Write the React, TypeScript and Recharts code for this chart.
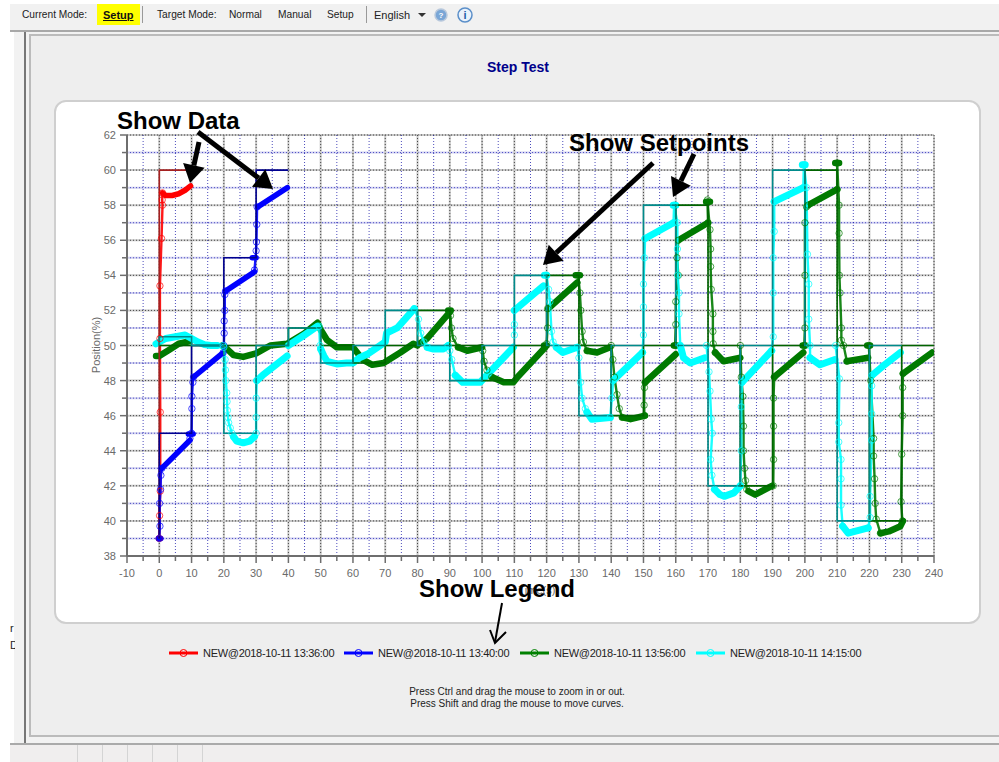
import React from 'react';
import { LineChart, Line, XAxis, YAxis, CartesianGrid, Legend } from 'recharts';

type Pair = [number, number | null];

const xTicks = [-10,-5,0,5,10,15,20,25,30,35,40,45,50,55,60,65,70,75,80,85,90,95,100,105,110,115,120,125,130,135,140,145,150,155,160,165,170,175,180,185,190,195,200,205,210,215,220,225,230,235,240];
const yTicks = [38,39,40,41,42,43,44,45,46,47,48,49,50,51,52,53,54,55,56,57,58,59,60,61,62];
const xMajor = xTicks.filter((v) => v % 10 === 0);
const xMinor = xTicks.filter((v) => v % 10 !== 0);
const yMajor = yTicks.filter((v) => v % 2 === 0);
const yMinor = yTicks.filter((v) => v % 2 !== 0);

const legendNames = ['NEW@2018-10-11 13:36:00', 'NEW@2018-10-11 13:40:00', 'NEW@2018-10-11 13:56:00', 'NEW@2018-10-11 14:15:00'];
const legendColors = ['#ff0000', '#0000ff', '#008000', '#00ffff'];
const legendLeft = [169, 344, 520, 696];

// Setpoints
const redSet: Pair[] = [[0,39],[0,60],[10,60]];
const blueSet: Pair[] = [[0,39],[0,45],[10,45],[10,50],[20,50],[20,55],[30,55],[30,60],[40,60]];
const greenSet: Pair[] = [[0,50],[40,50],[40,51],[50,51],[50,50],[60,50],[60,49],[70,49],[70,50],[80,50],[80,52],[90,52],[90,50],[100,50],[100,48],[110,48],[110,50],[120,50],[120,54],[130,54],[130,50],[140,50],[140,46],[150,46],[150,50],[160,50],[160,58],[170,58],[170,50],[180,50],[180,42],[190,42],[190,50],[200,50],[200,60],[210,60],[210,50],[220,50],[220,40],[230,40],[230,50],[240,50]];
const cyanSet: Pair[] = [[0,50],[0,50.5],[10,50.5],[10,50],[20,50],[20,45],[30,45],[30,50],[40,50],[40,51],[50,51],[50,49],[60,49],[60,50],[70,50],[70,52],[80,52],[80,50],[90,50],[90,48],[100,48],[100,50],[110,50],[110,54],[120,54],[120,50],[130,50],[130,46],[140,46],[140,50],[150,50],[150,58],[160,58],[160,50],[170,50],[170,42],[180,42],[180,50],[190,50],[190,60],[200,60],[200,50],[210,50],[210,40],[220,40],[220,50],[230,50]];

// Sparse samples through the transitions (thin line with hollow circles); null ends a transition
const redTrace: Pair[] = [[0,39],[0.1,40.3],[0.3,41.7],[0.3,46.2],[0.2,50.4],[0.2,53.4],[0.7,56.1],[1,58],[0.9,58.3],[1,58.7]];
const blueTrace: Pair[] = [[0,39],[0.2,39.7],[0.1,41],[0.4,41.8],[0.5,42.6],[0.8,43],[0.8,null],[9.5,44.7],[10,45],[10.1,46.4],[10.1,47.1],[10.4,47.9],[10.6,48.2],[10.6,null],[19.8,49.6],[20,50],[20.1,50.7],[20.1,51.4],[20.3,52],[20.3,52.9],[20.5,53.1],[20.5,null],[29.5,54.3],[30,55.4],[30.1,55.9],[30.2,56.9],[30.3,57.9]];
const greenTrace: Pair[] = [[90.2,51.7],[90.5,51],[91,50.4],[92.6,49.9],[92.6,null],[100.2,49.7],[100.6,49.1],[101.5,48.6],[103,48.2],[103,null],[120,50.1],[120.3,51],[120.3,52.1],[120.3,null],[129.8,54],[130.3,53],[130.6,52],[131,50.8],[131.4,50.2],[132.5,49.7],[132.5,null],[140,50],[140.5,49.2],[141,48.2],[141.8,47.2],[142.5,46.4],[143.4,45.9],[143.4,null],[150.3,46],[150.2,46.6],[150.3,47.6],[150.5,47.9],[150.5,null],[159.8,50],[160,51.2],[160,52.5],[160.8,54],[160.4,55],[160.8,56],[160.8,null],[170,57],[169.8,58.3],[170.6,56.6],[170.8,55.5],[170.8,54.5],[171,53.2],[171.5,51.8],[171.5,50.8],[171.6,50.1],[172.2,49.6],[172.2,null],[180,50],[180.3,48.2],[180.8,47.1],[181,45.4],[181,44],[181.3,43],[181.6,42.3],[182,41.8],[182,null],[190.2,42],[190.3,43.5],[190.3,45.4],[190.3,47],[190.5,48.2],[190.5,null],[199.8,50],[200,51],[200,54],[200,57],[200.5,57.9],[201,58],[201,null],[210,58.9],[210,60.4],[210.6,58],[210.6,56.4],[210.7,54],[210.9,53],[211.3,51],[211.3,50.3],[212,50],[213,49.1],[213,null],[219.8,50],[220.4,48],[221.3,44.7],[221.3,43.7],[221.6,42.4],[221.8,41],[222.1,40.1],[223.4,39.3],[223.4,null],[230.2,40],[229.8,41.1],[230,43.8],[230.3,46],[230.3,47.6],[230.4,48.4]];
const cyanTrace: Pair[] = [[19.8,50],[20,49.9],[20.4,49.2],[20.5,48.6],[20.6,48],[20.9,47.3],[21,46.8],[21.1,46.3],[21.3,45.9],[21.5,45.6],[22,45.3],[22.5,45],[23,44.8],[23,null],[30,45],[30,45.9],[30,47],[30.2,48],[30.2,null],[49.5,51.1],[49.8,50],[50,49.8],[50,null],[79,52.1],[80.3,51.5],[81,50.7],[82,50.2],[83,49.9],[83,null],[89.5,50],[90,49.7],[90.6,49.2],[91.7,48.3],[91.7,null],[110,50.6],[110,51.2],[110,52],[110,null],[120,54],[120.6,53.2],[121,52.5],[121.5,50.8],[122,50.2],[123,49.9],[123,null],[129.5,49.9],[130,49.3],[130.5,47.9],[131,47],[132,46.4],[132.5,46.2],[132.5,null],[139.7,45.9],[140.2,47],[140.6,48],[140.6,null],[149.7,49.6],[150,50.6],[150,52.2],[150,53.5],[150.3,55],[150.5,56.1],[150.5,null],[159.3,57],[159.5,58],[160.5,57],[160.5,55.5],[160.6,54],[161,53],[161,51.8],[161.4,50],[161.4,null],[169.5,50],[170.3,48.5],[170.6,47.4],[171,45.8],[171.3,45],[170.8,43.5],[171.2,42.6],[172,41.8],[172,null],[180,42],[180.3,44],[180.3,46.5],[180.5,47.9],[180.5,null],[189.7,49.7],[190.2,50.5],[190.2,53],[190.2,55],[190.5,56.5],[190.5,58.2],[190.5,null],[199.5,59],[199.7,60.3],[200.5,59],[200.8,55.2],[201.2,53.5],[201.2,51.5],[201.6,50],[201.6,49.3],[201.6,null],[209.5,50],[210.7,48.1],[210.5,45.6],[210.5,44.5],[211.2,43.5],[211.2,42.4],[211.2,40.9],[211.7,39.7],[211.7,null],[219.6,39.6],[220.2,40.2],[220.2,41.4],[220.7,44.6],[220.7,46.1],[220.7,47.7],[220.8,48.3]];

// Settled stretches, where the samples are so close that they merge into a thick line
const redRuns: Pair[] = [[1,58.7],[2,58.55],[4,58.55],[6,58.65],[8,58.85],[9.7,59.1]];
const blueRuns: Pair[] = [[-0.3,39],[0.5,39],[0.5,null],[0.8,43],[9.5,44.6],[9.5,null],[9,44.95],[10.5,44.95],[10.5,null],[10.6,48.2],[19.8,49.6],[19.8,null],[20.5,53.1],[29.5,54.2],[29.5,null],[28.8,55],[30,55],[30,null],[30.5,57.9],[39.7,59]];
const greenRuns: Pair[] = [[-1,49.4],[0,49.4],[3,49.75],[6,50.1],[9.6,50.25],[9.6,null],[19.5,50],[21,49.8],[23,49.45],[26,49.35],[30,49.55],[34.4,50],[39.6,50.1],[45,50.7],[49,51.3],[50,50.9],[52,50.3],[55,49.9],[60,49.9],[63,49.2],[66,48.9],[69.5,49],[74.7,49.6],[78.7,50.1],[80,50],[80,null],[80.6,50.1],[83,50.4],[90,51.9],[90,null],[89.5,52],[90.3,52],[90.3,null],[92.6,49.9],[95.4,49.7],[100,49.9],[100,null],[103,48.2],[106.7,47.9],[109.7,47.9],[111,48.2],[119.6,49.9],[119.6,null],[119.2,50],[120,50],[120,null],[120.5,52.1],[129.5,53.6],[129.5,null],[129,54],[130.3,54],[130.3,null],[132.5,49.7],[135.6,49.6],[139.7,49.9],[139.7,null],[143.4,45.9],[146,45.8],[150.5,46],[150.5,null],[150.5,47.9],[160,49.5],[160,null],[159.4,50],[160.3,50],[160.3,null],[160.8,56],[170,57],[170,null],[169.4,58.2],[170.6,58.2],[170.6,null],[172.2,49.6],[174.8,49.1],[180,49.3],[180,null],[182.5,41.7],[184.6,41.5],[189.8,42],[189.8,null],[190.5,48.2],[199.5,49.6],[199.5,null],[199.3,50],[200.2,50],[200.2,null],[201,58],[210,58.9],[210,null],[209.4,60.4],[210.6,60.4],[210.6,null],[213,49.1],[219.6,49.3],[219.6,null],[219.3,50],[220.2,50],[220.2,null],[223.4,39.3],[226,39.4],[229.6,39.7],[230.4,40],[230.4,null],[230.4,48.4],[239.4,49.6]];
const cyanRuns: Pair[] = [[-1,50.1],[0,50.2],[2,50.4],[5,50.5],[8,50.6],[10,50.4],[12,50.2],[14,50.05],[16,50],[18,50],[18,null],[23,44.8],[24,44.55],[26,44.45],[28,44.55],[29.5,44.8],[29.5,null],[30.2,48],[32,48.3],[39.6,49.4],[39.6,null],[40,50],[45,50.6],[49,51.1],[49,null],[50,49.8],[51,49.4],[52,49.1],[55,48.95],[58,49],[60,49],[62,49.3],[64.4,49.5],[70,50.2],[70.4,50.7],[73.7,51],[79,52.1],[79,null],[83,49.9],[85,49.8],[88,49.8],[89.5,50],[89.5,null],[91.7,48.3],[94,47.9],[99.4,47.9],[100.4,48.1],[109.7,49.9],[109.7,null],[110,52],[119,53.4],[119,null],[119.3,54],[120,54],[120,null],[123,49.9],[125,49.6],[129.5,49.9],[129.5,null],[132.5,46.2],[134,45.8],[139.7,45.9],[139.7,null],[140.6,48],[149.7,49.6],[149.7,null],[150.5,56.1],[159.3,57],[159.3,null],[159.2,58],[160,58],[160,null],[161.4,50],[162.4,49.3],[164.5,49],[169,49.3],[169,null],[172,41.8],[173.7,41.5],[175,41.4],[178,41.6],[180,42],[180,null],[180.5,47.9],[189.7,49.7],[189.7,null],[190.5,58.2],[199.5,59],[199.5,null],[199.2,60.3],[200.1,60.3],[200.1,null],[201.6,49.3],[204.7,48.9],[209.3,49.2],[209.3,null],[211.7,39.7],[213.4,39.3],[219.6,39.6],[219.6,null],[220.8,48.3],[224,48.8],[229.6,49.6]];

const rows = (pairs: Pair[]) => pairs.map(([x, y]) => ({ x, y }));

const axisGrey = '#6e6e6e';
const labelGrey = '#6a6a6a';
const uiFont = '"Liberation Sans", Arial, sans-serif';

const XTick = (p: any) => {
  const major = p.payload.value % 10 === 0;
  return (
    <g>
      <line x1={p.x} x2={p.x} y1={556} y2={major ? 563 : 561} stroke={axisGrey} strokeWidth={1.5} />
      {major && <text x={p.x} y={577} textAnchor="middle" fontSize={11} fontFamily={uiFont} fill={labelGrey}>{p.payload.value}</text>}
    </g>
  );
};
const YTick = (p: any) => {
  const major = p.payload.value % 2 === 0;
  return (
    <g>
      <line x1={127} x2={major ? 120 : 122} y1={p.y} y2={p.y} stroke={axisGrey} strokeWidth={1.5} />
      {major && <text x={116} y={p.y + 4} textAnchor="end" fontSize={11} fontFamily={uiFont} fill={labelGrey}>{p.payload.value}</text>}
    </g>
  );
};

const legendContent = () => (
  <div style={{ position: 'relative', width: 999, height: 20 }}>
    {legendNames.map((name, i) => (
      <div key={name} style={{ position: 'absolute', left: legendLeft[i], top: 0, height: 20, display: 'flex', alignItems: 'center', whiteSpace: 'nowrap' }}>
        <svg width={29} height={12} style={{ display: 'block' }}>
          <line x1={0} x2={29} y1={6} y2={6} stroke={legendColors[i]} strokeWidth={3} />
          <circle cx={14.5} cy={6} r={3.5} fill="none" stroke={legendColors[i]} strokeWidth={1} />
        </svg>
        <span style={{ marginLeft: 5, fontSize: 11, letterSpacing: -0.3, color: '#222', fontFamily: uiFont }}>{name}</span>
      </div>
    ))}
  </div>
);

const trace = (key: string, pairs: Pair[], color: string) => (
  <Line key={key} data={rows(pairs)} dataKey="y" type="linear" stroke={color} strokeWidth={2.4} strokeOpacity={0.9} isAnimationActive={false} legendType="none"
    dot={{ r: 3.2, fill: 'none', stroke: color, strokeWidth: 1, strokeOpacity: 0.7 }} activeDot={false} connectNulls={false} />
);
const runs = (key: string, pairs: Pair[], color: string, width: number) => (
  <Line key={key} data={rows(pairs)} dataKey="y" type="linear" stroke={color} strokeWidth={width} strokeLinecap="round" strokeLinejoin="round" isAnimationActive={false} legendType="none"
    dot={false} activeDot={false} connectNulls={false} />
);
const setpoint = (key: string, pairs: Pair[], color: string) => (
  <Line key={key} data={rows(pairs)} dataKey="y" type="linear" stroke={color} strokeWidth={1.6} isAnimationActive={false} legendType="none" dot={false} activeDot={false} />
);

const Txt = ({ x, y, children, style }: any) => (
  <div style={{ position: 'absolute', left: x, top: y, fontFamily: uiFont, fontSize: 10.2, lineHeight: '14px', color: '#222', whiteSpace: 'nowrap', ...style }}>{children}</div>
);

const Arrow = ({ x1, y1, x2, y2, w = 6, head = 20, hw = 13 }: any) => {
  const dx = x2 - x1, dy = y2 - y1, len = Math.hypot(dx, dy);
  const ux = dx / len, uy = dy / len, bx = x2 - ux * head, by = y2 - uy * head;
  return (
    <g>
      <line x1={x1} y1={y1} x2={bx} y2={by} stroke="#000" strokeWidth={w} />
      <polygon fill="#000" points={`${x2},${y2} ${bx - uy * hw},${by + ux * hw} ${bx + uy * hw},${by - ux * hw}`} />
    </g>
  );
};

export default function App() {
  return (
    <div style={{ position: 'fixed', left: 0, top: 0, width: 999, height: 762, overflow: 'hidden', background: '#fff' }}>
      {/* window chrome */}
      <div style={{ position: 'absolute', left: 10, top: 4, width: 989, height: 26, background: '#f1f1f1' }} />
      <div style={{ position: 'absolute', left: 10, top: 30, width: 989, height: 2, background: '#a8a8a8' }} />
      <div style={{ position: 'absolute', left: 14, top: 32, width: 985, height: 711, background: '#f2f2f2' }} />
      <div style={{ position: 'absolute', left: 24, top: 32, width: 2, height: 711, background: '#777' }} />
      <div style={{ position: 'absolute', left: 29, top: 34, width: 970, height: 703, background: '#eeeeee', borderLeft: '2px solid #bbb', borderTop: '2px solid #bbb', borderBottom: '2px solid #bbb', boxSizing: 'border-box' }} />
      <div style={{ position: 'absolute', left: 10, top: 743, width: 989, height: 19, background: '#f0eeee', borderTop: '2px solid #aaa', boxSizing: 'border-box' }} />
      {[77, 102, 127, 152, 177, 202].map((x) => (
        <div key={x} style={{ position: 'absolute', left: x, top: 745, width: 1, height: 17, background: '#d4d4d4' }} />
      ))}
      <Txt x={10} y={621} style={{ fontSize: 11 }}>r</Txt>
      <Txt x={10} y={638} style={{ fontSize: 11, width: 5, overflow: 'hidden' }}>D</Txt>

      {/* toolbar */}
      <div style={{ position: 'absolute', left: 97, top: 4, width: 43, height: 21, background: '#ffff00' }} />
      <Txt x={22} y={8}>Current Mode:</Txt>
      <Txt x={103} y={8} style={{ fontWeight: 700, textDecoration: 'underline', fontSize: 11, color: '#111' }}>Setup</Txt>
      <div style={{ position: 'absolute', left: 142, top: 6, width: 1, height: 17, background: '#999' }} />
      <Txt x={157} y={8}>Target Mode:</Txt>
      <Txt x={229} y={8}>Normal</Txt>
      <Txt x={278} y={8}>Manual</Txt>
      <Txt x={327} y={8}>Setup</Txt>
      <div style={{ position: 'absolute', left: 366, top: 6, width: 1, height: 17, background: '#999' }} />
      <Txt x={374} y={8} style={{ fontSize: 11 }}>English</Txt>
      <svg width={60} height={20} style={{ position: 'absolute', left: 415, top: 5 }}>
        <polygon points="3,8 11,8 7,12" fill="#333" />
        <circle cx={26} cy={10} r={6} fill="#7aa6d6" stroke="#b8c8dc" strokeWidth={1.5} />
        <text x={26} y={13} textAnchor="middle" fontSize={8} fontWeight={700} fill="#fff" fontFamily={uiFont}>?</text>
        <circle cx={50} cy={10} r={7} fill="#eaf2fb" stroke="#5b8fc9" strokeWidth={1.5} />
        <text x={50} y={14} textAnchor="middle" fontSize={11} fontWeight={700} fill="#1f5fa8" fontFamily={uiFont}>i</text>
      </svg>

      {/* title, card, help */}
      <div style={{ position: 'absolute', left: 418, width: 200, top: 60, textAlign: 'center', fontFamily: uiFont, fontSize: 14, fontWeight: 700, color: '#00008b', lineHeight: '15px' }}>Step Test</div>
      <div style={{ position: 'absolute', left: 54, top: 100, width: 927, height: 524, background: '#fff', border: '2px solid #cfcfcf', borderRadius: 12, boxSizing: 'border-box' }} />
      <div style={{ position: 'absolute', left: 317, width: 400, top: 686, textAlign: 'center', fontFamily: uiFont, fontSize: 10, lineHeight: '12px', color: '#222' }}>
        Press Ctrl and drag the mouse to zoom in or out.<br />Press Shift and drag the mouse to move curves.
      </div>

      <div style={{ position: 'absolute', left: 0, top: 0 }}>
        <LineChart width={999} height={762} margin={{ left: 0, right: 65, top: 135, bottom: 176 }}>
          <CartesianGrid horizontalValues={yMinor} vertical={false} stroke="#d0d0f0" strokeWidth={2} />
          <CartesianGrid horizontalValues={yMinor} vertical={false} stroke="#3030b8" strokeOpacity={0.8} strokeWidth={1} strokeDasharray="1 2" />
          <CartesianGrid horizontalValues={yMajor} vertical={false} stroke="#c8c8c8" strokeWidth={2} />
          <CartesianGrid horizontalValues={yMajor} vertical={false} stroke="#000" strokeOpacity={0.65} strokeWidth={1} strokeDasharray="1 2" />
          <CartesianGrid verticalValues={xMinor} horizontal={false} stroke="#0000a0" strokeOpacity={0.7} strokeWidth={1} strokeDasharray="1 2" />
          <CartesianGrid verticalValues={xMajor} horizontal={false} stroke="#c8c8c8" strokeWidth={2} />
          <CartesianGrid verticalValues={xMajor} horizontal={false} stroke="#000" strokeOpacity={0.65} strokeWidth={1} strokeDasharray="1 2" />
          <XAxis xAxisId={0} dataKey="x" type="number" domain={[-10, 240]} ticks={xTicks} interval={0} tick={<XTick />} tickLine={false} stroke={axisGrey} strokeWidth={2} allowDataOverflow height={30} />
          <YAxis yAxisId={0} type="number" domain={[38, 62]} ticks={yTicks} interval={0} tick={<YTick />} tickLine={false} stroke={axisGrey} strokeWidth={2} allowDataOverflow width={127} />
          {trace('redT', redTrace, '#ff0000')}
          {runs('redR', redRuns, '#ff0000', 5.5)}
          {trace('blueT', blueTrace, '#0000ff')}
          {runs('blueR', blueRuns, '#0000ff', 5.5)}
          {trace('greenT', greenTrace, '#007a00')}
          {runs('greenR', greenRuns, '#007a00', 6.5)}
          {trace('cyanT', cyanTrace, '#00ffff')}
          {runs('cyanR', cyanRuns, '#00ffff', 7)}
          {setpoint('redS', redSet, '#a52020')}
          {setpoint('blueS', blueSet, '#000090')}
          {setpoint('greenS', greenSet, '#006400')}
          {setpoint('cyanS', cyanSet, '#008b8b')}
          <Legend layout="horizontal" verticalAlign="middle" align="center" content={legendContent} wrapperStyle={{ position: 'absolute', left: 0, top: 643, width: 999, height: 20 }} />
        </LineChart>
      </div>

      {/* axis names and annotations */}
      <svg width={999} height={762} style={{ position: 'absolute', left: 0, top: 0, pointerEvents: 'none' }}>
        <text transform="translate(100,345) rotate(-90)" textAnchor="middle" fontSize={11} fontFamily={uiFont} fill={labelGrey}>Position(%)</text>
        <text x={537} y={594} textAnchor="middle" fontSize={11} fontFamily={uiFont} fill={labelGrey}>Time(s)</text>
        <g fontFamily={uiFont} fontWeight={700} fontSize={24} fill="#000">
          <text x={117} y={129}>Show Data</text>
          <text x={569} y={151}>Show Setpoints</text>
          <text x={419} y={597}>Show Legend</text>
        </g>
        <Arrow x1={199} y1={142} x2={190} y2={183} w={5} head={18} hw={11} />
        <Arrow x1={198} y1={132} x2={273} y2={189} w={5} head={18} hw={11} />
        <Arrow x1={653} y1={163} x2={543} y2={265} w={5} head={18} hw={11} />
        <Arrow x1={694} y1={154} x2={673} y2={197} w={5} head={18} hw={11} />
        <line x1={502} y1={603} x2={495} y2={642} stroke="#000" strokeWidth={2} />
        <polyline points="490,630 495,643 506,632" fill="none" stroke="#000" strokeWidth={2} />
      </svg>
    </div>
  );
}
